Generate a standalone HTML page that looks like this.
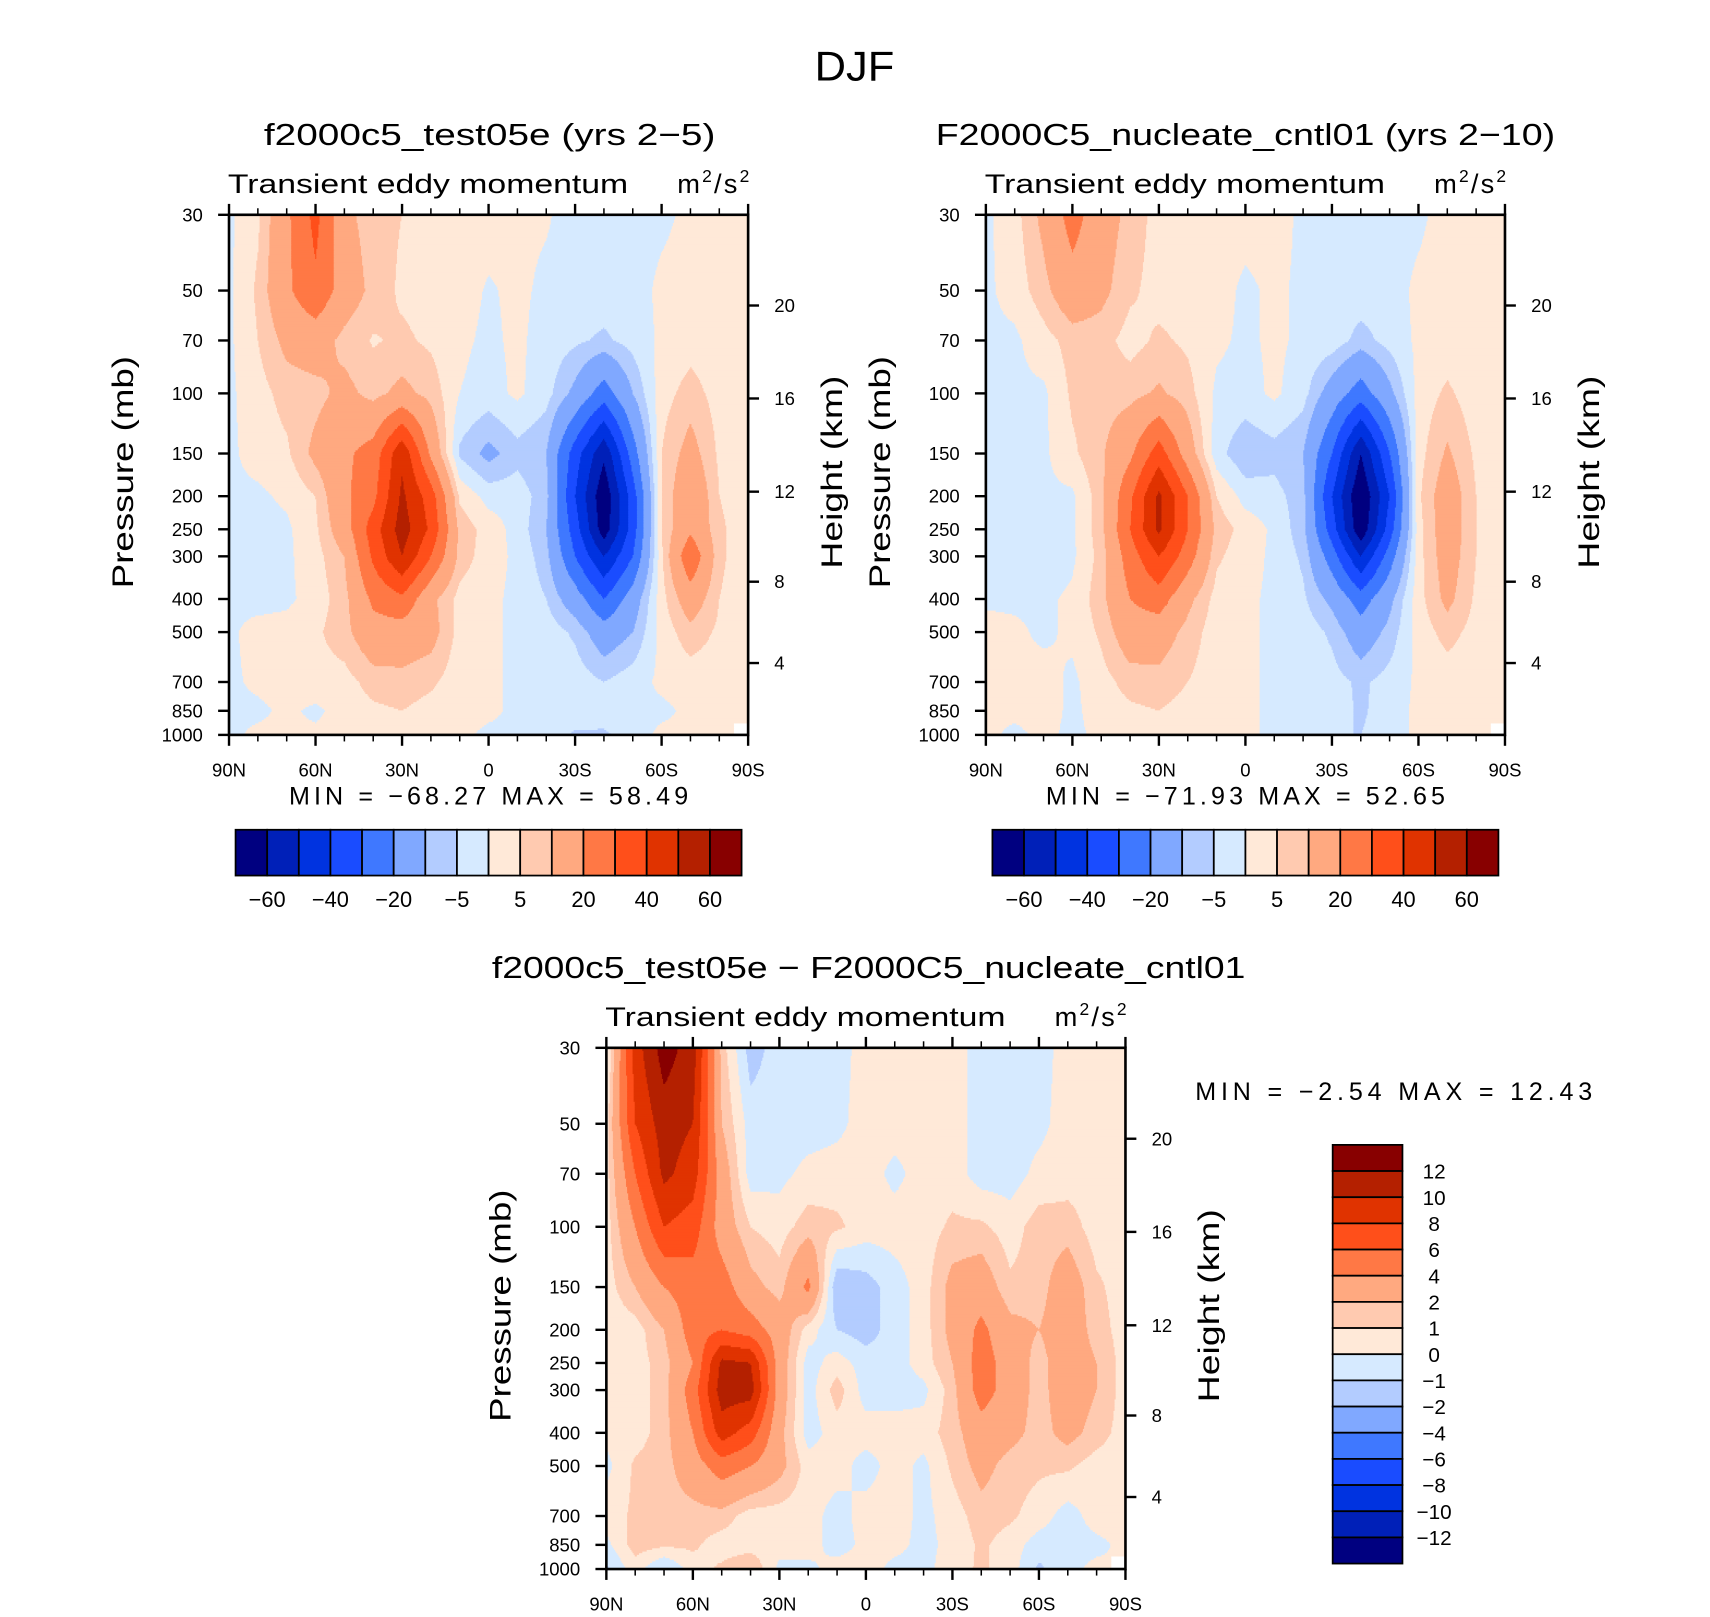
<!DOCTYPE html>
<html><head><meta charset="utf-8"><title>DJF Transient eddy momentum</title>
<style>
html,body{margin:0;padding:0;background:#fff;}
svg{display:block;font-family:"Liberation Sans",sans-serif;}
</style></head>
<body>
<svg id="fig" width="1710" height="1617" viewBox="0 0 1568 1483" preserveAspectRatio="none" xmlns="http://www.w3.org/2000/svg">
<rect x="0" y="0" width="1568" height="1483" fill="#fff"/>
<text x="747" y="74" font-size="38" textLength="73" lengthAdjust="spacingAndGlyphs" fill="#000">DJF</text>
<g id="p1"></g>
<g id="p2"></g>
<g id="p3"></g>
</svg>
<script>
const NS = "http://www.w3.org/2000/svg";
const pressures = [30,50,70,100,150,200,250,300,400,500,700,850,1000];
const lats = [90,80,70,60,50,40,30,20,10,0,-10,-20,-30,-40,-50,-60,-70,-80,-90];
const latTickLabels = ["90N","60N","30N","0","30S","60S","90S"];
const heightTicks = [4,8,12,16,20];
const heightTickPressures = [616,356,194,103.5,55.3];
const colors = ["#000080","#0020b8","#0033e0","#1a4cff","#3f78ff","#80a8ff","#b3ccff","#d6eaff","#ffe9d8","#ffcab0","#ffa980","#ff7845","#ff4f1a","#e03300","#b42000","#880000"];
const boundsMain = [-60,-50,-40,-30,-20,-10,-5,0,5,10,20,30,40,50,60];
const boundsDiff = [-12,-10,-8,-6,-4,-2,-1,0,1,2,4,6,8,10,12];
const mainBarLabels = ["−60","−40","−20","−5","5","20","40","60"];
const diffBarLabels = ["12","10","8","6","4","2","1","0","−1","−2","−4","−6","−8","−10","−12"];

// rows = pressure levels (30..1000), cols = 90N..90S
const test05e = [
[-1,4,18,33,12,7,5,3,3,2,1,0.5,-2,-2,-2,-1,1,1,1],
[-1,6,18,28,15,8,4,3,2,-0.5,1,-1,-2,-2,-2,1,2,2,2],
[-1,5,12,14,8,4.5,6,4,1,-1,1,-2,-4,-6,-3,1,3,2,2],
[-1,3,7,8,12,8,12,8,0,-2,1,-3,-12,-25,-10,3,7,3,2],
[-1,2,4,12,18,24,48,18,-6,-12,-7,-10,-35,-58,-25,5,13,4,2],
[-1,-1,1,5,18,27,52,35,4,-2,-2,-8,-40,-68,-35,5,18,5,2],
[-1,-2,-1,4,15,35,55,38,8,3,-2,-10,-35,-66,-35,5,18,6,2],
[-1,-2,-1,3,10,32,50,30,8,2,-1,-8,-30,-50,-30,4,28,6,2],
[-1,-2,-1,2,8,22,28,12,3,1,-1,-5,-15,-30,-15,3,15,5,2],
[-1,2,2,4,8,16,15,13,3,1,-1,-2,-6,-15,-10,2,8,4,2],
[-1,1,2,3,3,7,8,6,2,1,-1,-2,-2,-5,-2,1,2,2,1],
[-1,-1,1,-1,2,4,5,3,2,1,-1,-1,-1,-2,-1,-1,1,1,1],
[-1,1,1,1,2,3,4,2,1,-1,-1,-1,-6,-6,-2,1,1,1,null]
];
const cntl01 = [
[-1,3,12,24,14,8,3,2,2,2,2,-1,-2,-2,-2,-1,2,2,2],
[-1,2,8,16,12,6,3,2,2,-1,1,-1,-2,-2,-2,1,2,2,1],
[-1,-1,3,7,7,3,6,4,1,-1,1,-1,-2,-7,-3,1,2,2,1],
[-1,-1,-1,6,7,8,11,7,-1,-2,1,-3,-14,-25,-12,2,6,2,1],
[-1,-1,-1,4,9,18,35,15,-3,-9,-7,-10,-30,-60,-30,3,11,4,1],
[-1,-1,-1,-1,8,28,52,30,5,-2,-3,-8,-40,-70,-40,4,15,5,1],
[-1,-1,-1,-1,8,30,52,30,8,3,-1,-8,-35,-68,-35,3,15,5,1],
[-1,-1,-3,-1,7,25,40,25,6,2,-1,-6,-25,-50,-25,3,14,5,1],
[-1,-1,-1,1,8,20,25,12,3,1,-1,-4,-12,-25,-12,3,12,4,1],
[2,1,-1,1,6,15,14,8,2,1,-1,-2,-6,-15,-8,2,7,3,1],
[2,1,2,-1,3,7,8,5,2,1,-1,-2,-3,-6,-3,1,2,2,1],
[1,1,2,-1,2,4,5,3,1,1,-1,-1,-2,-6,-2,1,4,1,1],
[1,-1,1,-1,1,3,3,2,1,1,-1,-1,-5,-5,-2,1,2,1,null]
];
const diffValues = [
[-0.5,9,13,11,1.5,-1.5,-0.5,-0.5,-0.5,0.5,0.5,0.5,0.5,-0.5,-0.5,-0.5,0.5,0.5,0.3],
[0.5,8,11,10,2,-0.5,-0.5,-0.5,-0.3,0.5,0.5,0.5,0.5,-0.5,-0.5,-0.3,0.5,0.5,0.5],
[0.5,6,10.5,9,3,-0.5,-0.3,0.3,0.5,0.5,-0.3,0.5,0.5,-0.5,-0.5,0.3,0.5,0.5,0.5],
[0.5,4,8,7,3,1,0.5,1.5,1.2,0.5,0.5,0.5,1.2,1.2,0.5,1.5,1.5,0.5,0.5],
[0.5,2,4,5,5,2.5,1.5,4.5,-2,-1.5,-0.5,0.5,2.5,3,1.2,1.5,3,1.2,0.5],
[0.3,0.5,2,5,6,5,3,0.5,-1,-1.5,-0.5,0.5,2.5,4.5,2.5,2,3,1.5,0.5],
[0,0.5,1.5,4,10.5,10,3,-0.5,0.5,-0.5,-0.5,0.5,2,5,3,1.5,3,2,0.5],
[0.3,0.5,1.5,5,11,11,3,-0.5,1.5,-0.5,-0.5,-0.3,1.5,5,3,1.5,3,2,0.5],
[0.3,0.5,1.5,4,9,7,2.5,-0.5,0.5,0.5,0.5,0.5,1.5,3,2.5,1.5,2.5,1.5,0.5],
[-0.3,1.2,1.5,3,5,4,2.5,0.5,0.5,-0.5,0.5,-0.3,1.2,2.5,1.5,1.2,1.2,0.5,0.5],
[0.5,1.2,1.5,1.5,1.5,0.5,0.5,0.5,-0.5,0.5,0.5,-0.3,0.5,1.5,1.2,0.5,-0.5,0.5,0.5],
[-0.3,1.5,1.2,1.2,0.5,0.5,0.5,0.5,-0.5,0.3,0.3,-0.3,0.3,1.2,0.5,-0.5,-0.5,-0.3,0.3],
[-1.2,0.5,-1.2,0.5,1.2,2,-0.3,-0.3,0.5,0.5,-0.3,-0.3,0.5,1.2,0.5,-1.2,-0.3,0.3,null]
];

const LN30 = Math.log(30), LNSPAN = Math.log(1000/30);
const lnP = pressures.map(p => Math.log(p));

function mk(parent, tag, attrs, text) {
  const e = document.createElementNS(NS, tag);
  for (const k in attrs) e.setAttribute(k, attrs[k]);
  if (text !== undefined) e.textContent = text;
  parent.appendChild(e);
  return e;
}
function binOf(v, bounds) { let k = 0; while (k < bounds.length && v >= bounds[k]) k++; return k; }

function sample(vals, fi, fj) {
  const i = Math.min(Math.floor(fi), 17), s = fi - i;
  const j = Math.min(Math.floor(fj), 11), t = fj - j;
  const c = [[vals[j][i],(1-s)*(1-t)],[vals[j][i+1],s*(1-t)],[vals[j+1][i],(1-s)*t],[vals[j+1][i+1],s*t]];
  const near = vals[t<0.5?j:j+1][s<0.5?i:i+1];
  if (near === null) return null;
  let sw = 0, sv = 0;
  for (const [v,w] of c) if (v !== null) { sw += w; sv += v*w; }
  return sw > 0 ? sv/sw : null;
}

function drawPanel(g, vals, bounds, X0, Y0, W, H, o) {
  const yOf = p => Y0 + (Math.log(p) - LN30) / LNSPAN * H;
  const xOf = lat => X0 + (90 - lat) / 180 * W;
  const field = mk(g, 'g', {});
  
  
  const step = 1.5;
  for (let y = Y0; y < Y0 + H; y += step) {
    const lp = LN30 + (y + step/2 - Y0) / H * LNSPAN;
    let j = 0; while (j < 11 && lp > lnP[j+1]) j++;
    const fj = j + (lp - lnP[j]) / (lnP[j+1] - lnP[j]);
    let runStart = X0, runCol = null;
    for (let x = X0; x <= X0 + W; x += 1) {
      let col = null;
      if (x < X0 + W) {
        const fi = (x + 0.5 - X0) / W * 18;
        const v = sample(vals, fi, fj);
        col = v === null ? '#ffffff' : colors[binOf(v, bounds)];
      }
      if (col !== runCol) {
        if (runCol !== null) {
          const r = mk(field, 'rect', {x: runStart, y: y, width: x - runStart + 0.6, height: step + 0.6, fill: runCol});
          
          
        }
        runStart = x; runCol = col;
      }
    }
  }
  const frame = mk(g, 'rect', {x: X0, y: Y0, width: W, height: H, fill: 'none', stroke: '#000', 'stroke-width': 2.4});
  
  
  for (let k = 0; k <= 18; k++) {
    const lat = 90 - k*10, x = xOf(lat), major = k % 3 === 0, L = major ? 10 : 6;
    mk(g, 'line', {x1: x, y1: Y0, x2: x, y2: Y0 - L, stroke: '#000', 'stroke-width': major ? 2.2 : 1.4});
    mk(g, 'line', {x1: x, y1: Y0 + H, x2: x, y2: Y0 + H + L, stroke: '#000', 'stroke-width': major ? 2.2 : 1.4});
  }
  latTickLabels.forEach((lab, k) => {
    const t = mk(g, 'text', {x: xOf(90 - k*30), y: Y0 + H + 38, 'font-size': 17, 'text-anchor': 'middle'}, lab);
    
    
  });
  pressures.forEach(p => {
    const y = yOf(p);
    mk(g, 'line', {x1: X0 - 10, y1: y, x2: X0, y2: y, stroke: '#000', 'stroke-width': 2.2});
    const t = mk(g, 'text', {x: X0 - 24, y: y + 6, 'font-size': 17, 'text-anchor': 'end'}, String(p));
    
    
  });
  heightTicks.forEach((z, k) => {
    const y = yOf(heightTickPressures[k]);
    mk(g, 'line', {x1: X0 + W, y1: y, x2: X0 + W + 10, y2: y, stroke: '#000', 'stroke-width': 2.2});
    const t = mk(g, 'text', {x: X0 + W + 24, y: y + 6, 'font-size': 17}, String(z));
    
    
  });
  const cy = Y0 + H * 0.5;
  const pt = mk(g, 'text', {x: -106, y: 0, 'font-size': 27, textLength: 213, lengthAdjust: 'spacingAndGlyphs', transform: `translate(${X0-88},${cy-2}) rotate(-90)`}, 'Pressure (mb)');
  
  
  const ht = mk(g, 'text', {x: -88, y: 0, 'font-size': 27, textLength: 177, lengthAdjust: 'spacingAndGlyphs', transform: `translate(${X0+W+86},${cy-2}) rotate(-90)`}, 'Height (km)');
  
  
  const st = mk(g, 'text', {x: X0 - 1, y: Y0 - 20, 'font-size': 25, textLength: 367, lengthAdjust: 'spacingAndGlyphs'}, 'Transient eddy momentum');
  
  
  const un = mk(g, 'text', {x: X0 + W - 65, y: Y0 - 20, 'font-size': 25, 'letter-spacing': 2});
  
  
  un.innerHTML = 'm<tspan font-size="16" dy="-10">2</tspan><tspan dy="10">/s</tspan><tspan font-size="16" dy="-10">2</tspan>';
  const tt = mk(g, 'text', {x: o.tx0, y: Y0 - 64, 'font-size': 28, textLength: o.tw, lengthAdjust: 'spacingAndGlyphs'}, o.title);
  
  
}

function hBar(g, x0, y0, w, h, labels) {
  const cw = w / 16;
  colors.forEach((c, k) => {
    const r = mk(g, 'rect', {x: x0 + k*cw, y: y0, width: cw, height: h, fill: c, stroke: '#000', 'stroke-width': 1.6});
    
    
  });
  labels.forEach((lab, k) => {
    const t = mk(g, 'text', {x: x0 + (2*k+1)*cw, y: y0 + h + 29, 'font-size': 20, 'text-anchor': 'middle'}, lab);
    
    
  });
}

function vBar(g, x0, y0, w, h, labels) {
  const ch = h / 16;
  colors.slice().reverse().forEach((c, k) => {
    const r = mk(g, 'rect', {x: x0, y: y0 + k*ch, width: w, height: ch, fill: c, stroke: '#000', 'stroke-width': 1.6});
    
    
  });
  labels.forEach((lab, k) => {
    const t = mk(g, 'text', {x: x0 + w + 29, y: y0 + (k+1)*ch + 7, 'font-size': 19, 'text-anchor': 'middle'}, lab);
    
    
  });
}

function statText(g, x, w, y, s) {
  const t = mk(g, 'text', {x: x, y: y, 'font-size': 23, textLength: w, lengthAdjust: 'spacing', 'xml:space': 'preserve'}, s);
  
  
}

const g1 = document.getElementById('p1'), g2 = document.getElementById('p2'), g3 = document.getElementById('p3');
drawPanel(g1, test05e, boundsMain, 210, 197, 476, 477, {title: 'f2000c5_test05e (yrs 2−5)', tx0: 242, tw: 414});
statText(g1, 265, 366, 738, 'MIN = −68.27   MAX =  58.49');
hBar(g1, 216, 761, 464, 42, mainBarLabels);

drawPanel(g2, cntl01, boundsMain, 904, 197, 476, 477, {title: 'F2000C5_nucleate_cntl01 (yrs 2−10)', tx0: 858, tw: 568});
statText(g2, 959, 366, 738, 'MIN = −71.93   MAX =  52.65');
hBar(g2, 910, 761, 464, 42, mainBarLabels);

drawPanel(g3, diffValues, boundsDiff, 556, 961, 476, 478, {title: 'f2000c5_test05e − F2000C5_nucleate_cntl01', tx0: 451, tw: 691});
statText(g3, 1096, 364, 1009, 'MIN =   −2.54   MAX =   12.43');
vBar(g3, 1222, 1050, 64, 384, diffBarLabels);
</script>
</body></html>
